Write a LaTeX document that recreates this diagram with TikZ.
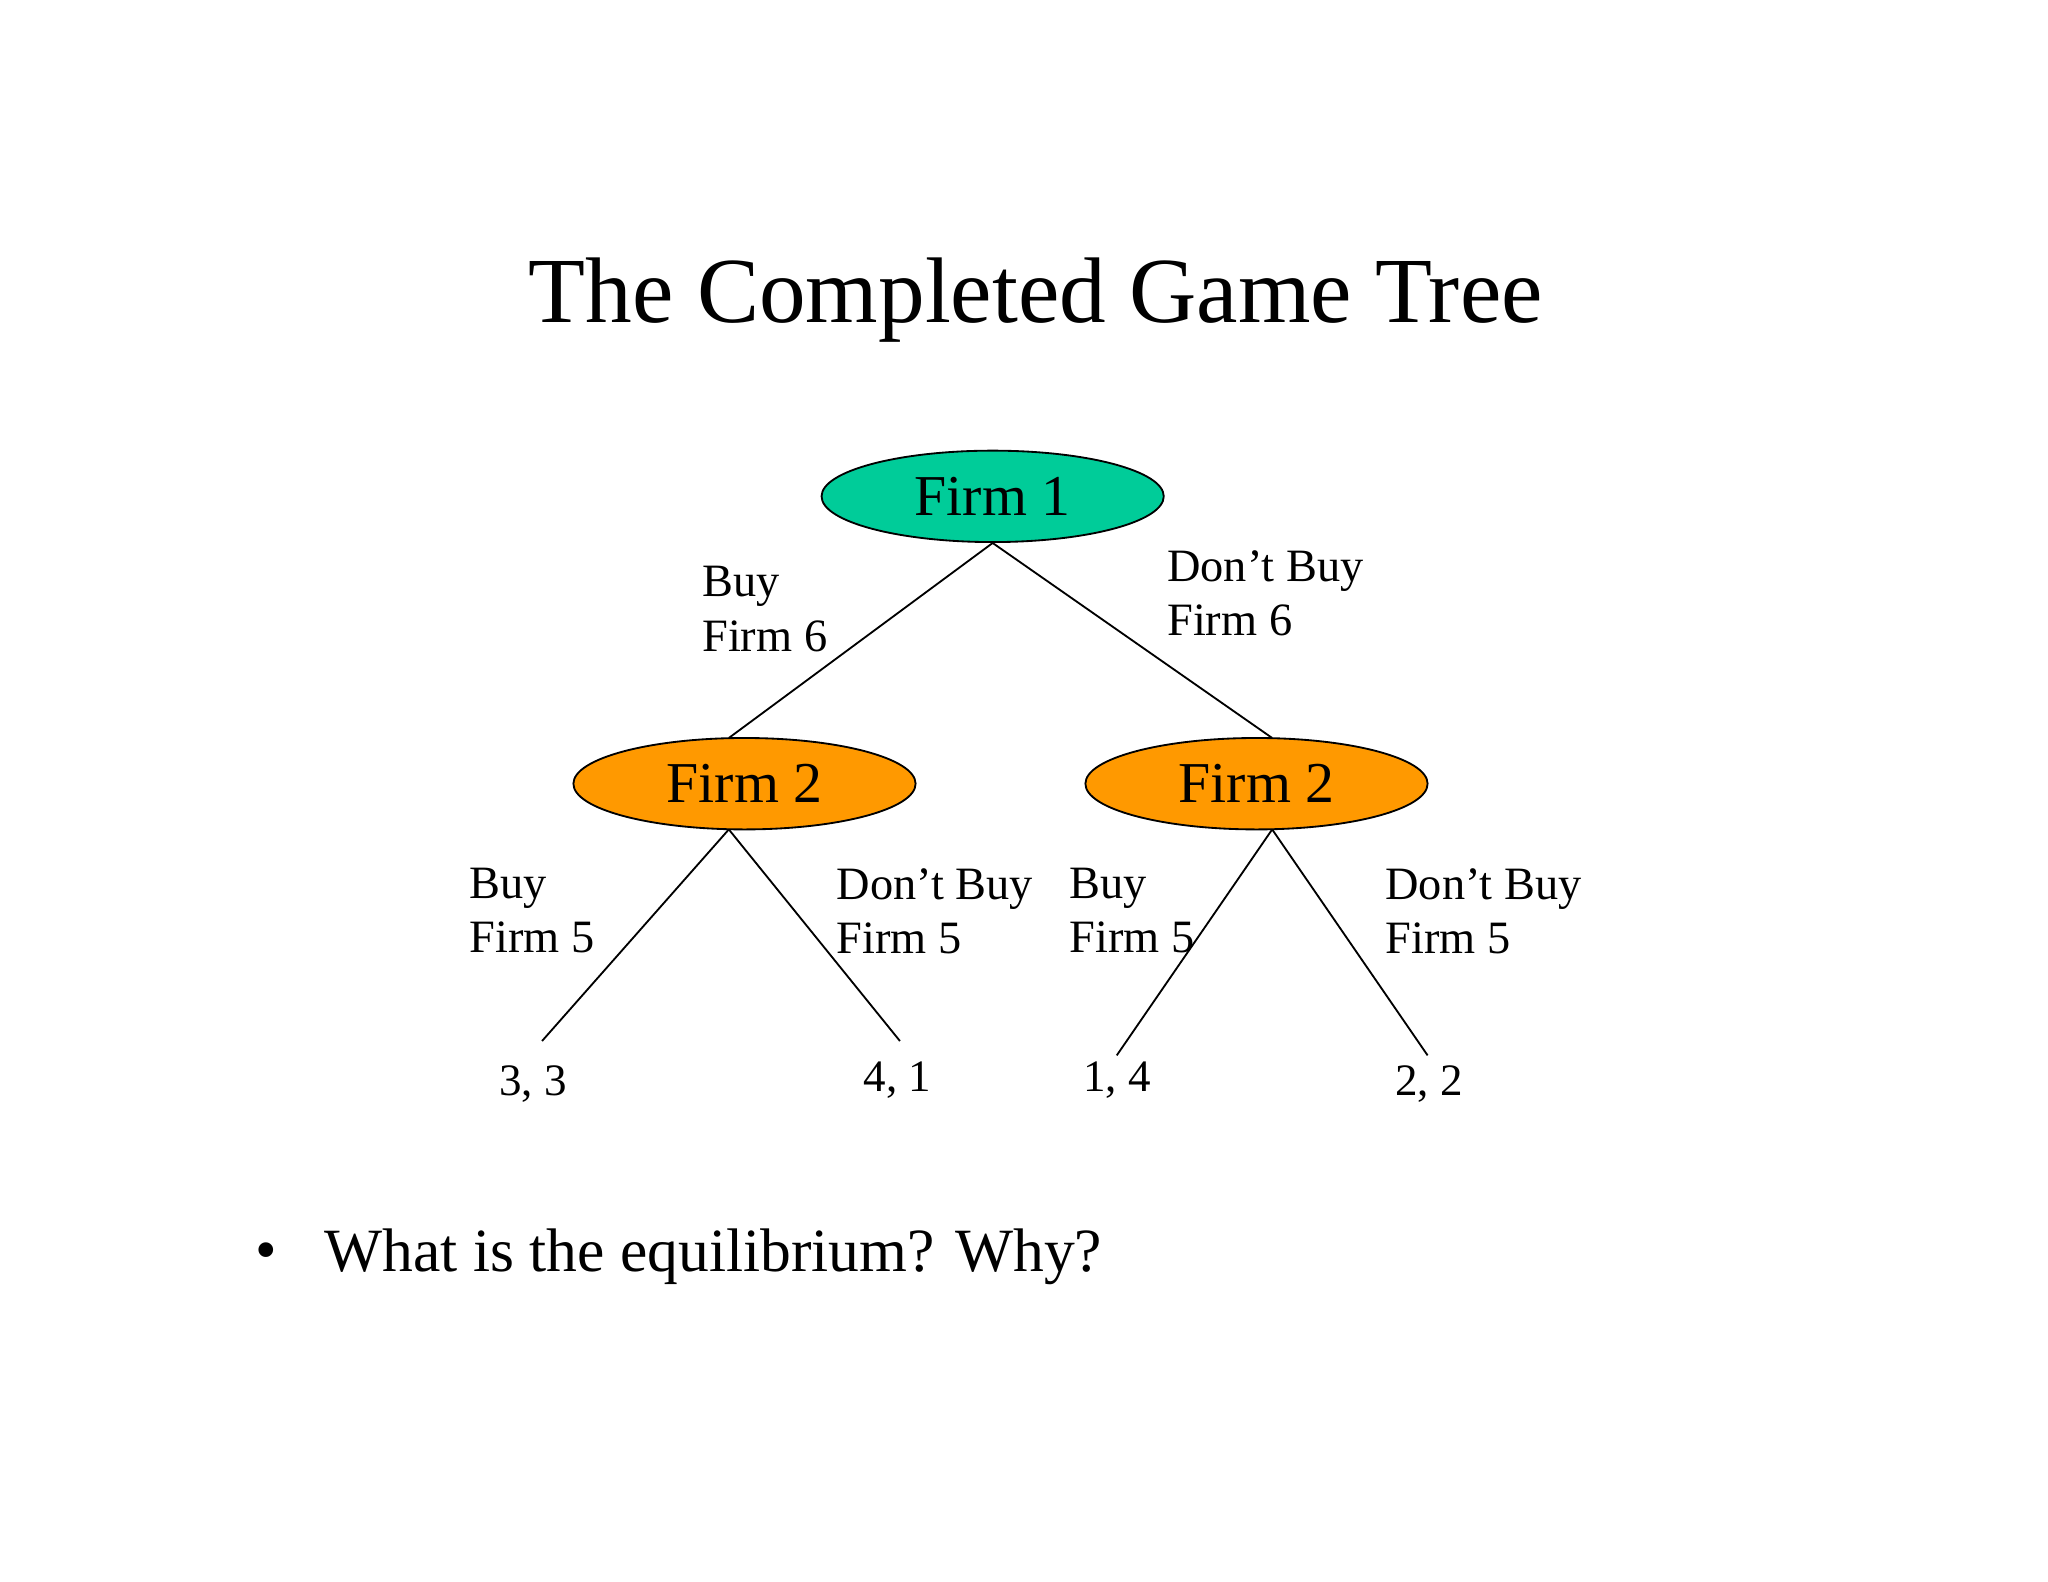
\documentclass[tikz,border=0pt]{standalone}
\usepackage{fontspec}
\setmainfont{Liberation Serif}
\usetikzlibrary{shapes.geometric,positioning}
\tikzset{
  player/.style={ellipse,draw=black,minimum width=2.62cm,minimum height=0.7cm,font=\fontsize{12.6}{12.6}\selectfont,inner sep=0pt},
  move/.style={anchor=north west,align=left,font=\fontsize{10.1}{11.8}\selectfont,inner sep=0pt},
  payoff/.style={font=\fontsize{9.8}{12}\selectfont,inner sep=0pt}
}
\definecolor{tealfill}{RGB}{0,204,153}
\definecolor{orangefill}{RGB}{255,153,0}
\begin{document}
\begin{tikzpicture}
\useasboundingbox (0,0) rectangle (15.68,-12.11);

\node[font=\fontsize{20.3}{20.3}\selectfont] (title) at (7.93,-2.3) {The Completed Game Tree};

% players
\node[player,fill=tealfill] (f1) at (7.6,-3.8) {Firm 1};
\node[player,fill=orangefill] (f2a) at (5.7,-6.0) {Firm 2};
\node[player,fill=orangefill] (f2b) at (9.62,-6.0) {Firm 2};

% payoffs
\coordinate (l1) at (4.15,-7.97);
\coordinate (l2) at (6.89,-7.97);
\coordinate (l3) at (8.55,-8.08);
\coordinate (l4) at (10.93,-8.08);
\node[payoff] (p1) at (4.08,-8.3) {3, 3};
\node[payoff] (p2) at (6.87,-8.27) {4, 1};
\node[payoff] (p3) at (8.55,-8.27) {1, 4};
\node[payoff] (p4) at (10.94,-8.3) {2, 2};

% branches
\draw (f1.south) -- (5.58,-5.65);
\draw (f1.south) -- (9.74,-5.65);
\draw (5.58,-6.35) -- (l1);
\draw (5.58,-6.35) -- (l2);
\draw (9.74,-6.35) -- (l3);
\draw (9.74,-6.35) -- (l4);

% moves
\node[move] (m1) at (5.37,-4.33) {Buy\\Firm 6};
\node[move] (m2) at (8.93,-4.21) {Don’t Buy\\Firm 6};
\node[move] (m3) at (3.59,-6.64) {Buy\\Firm 5};
\node[move] (m4) at (6.40,-6.64) {Don’t Buy\\Firm 5};
\node[move] (m5) at (8.18,-6.64) {Buy\\Firm 5};
\node[move] (m6) at (10.60,-6.64) {Don’t Buy\\Firm 5};

% question
\node[anchor=west,inner sep=0pt,font=\fontsize{13.4}{13.4}\selectfont] (bul) at (1.95,-9.62) {•};
\node[anchor=west,inner sep=0pt,font=\fontsize{13.4}{13.4}\selectfont] (q) at (2.48,-9.62) {What is the equilibrium? Why?};
\end{tikzpicture}
\end{document}
